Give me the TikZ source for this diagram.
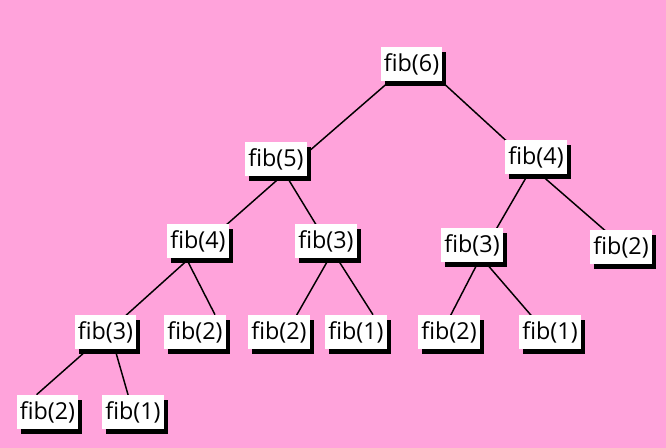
\documentclass[tikz,border=0pt]{standalone}
\usepackage{fontspec}
\setmainfont{Open Sans}
\usepackage{tikz}
\usetikzlibrary{shadows,backgrounds}

\definecolor{bgpink}{RGB}{255,163,219}

\tikzset{
  call/.style={fill=white, inner xsep=2.5pt, inner ysep=0pt, minimum height=25.5pt,
    font=\fontsize{17.5}{20}\selectfont,
    drop shadow={fill=black, opacity=1, shadow xshift=3pt, shadow yshift=-3.75pt}},
  link/.style={line width=1.1pt, black}
}

\begin{document}
\begin{tikzpicture}[x=0.75pt,y=0.75pt,yscale=-1,xscale=1]
\useasboundingbox (0,0) rectangle (666,448);
% calls
\node[call] (f6) at (411.5,64) {fib(6)};
\node[call] (f5) at (276,159) {fib(5)};
\node[call] (f4r) at (536,157) {fib(4)};
\node[call] (f4l) at (198,241) {fib(4)};
\node[call] (f3m) at (326,241) {fib(3)};
\node[call] (f3r) at (472,245) {fib(3)};
\node[call] (f2r) at (621,247) {fib(2)};
\node[call] (f3l) at (105.5,332) {fib(3)};
\node[call] (f2a) at (195,332) {fib(2)};
\node[call] (f2b) at (279,332) {fib(2)};
\node[call] (f1a) at (356,332) {fib(1)};
\node[call] (f2c) at (449,332) {fib(2)};
\node[call] (f1b) at (550,332) {fib(1)};
\node[call] (f2d) at (47.5,412) {fib(2)};
\node[call] (f1c) at (133,412) {fib(1)};
% background and links
\begin{pgfonlayer}{background}
\fill[bgpink] (0,0) rectangle (666,448);
\draw[link] ([xshift=-1.5pt]f6.center) -- ([xshift=18pt]f5.center);
\draw[link] ([xshift=8.25pt]f6.center) -- ([xshift=-9pt]f4r.center);
\draw[link] ([xshift=18.75pt]f5.center) -- ([xshift=7.5pt]f4l.center);
\draw[link] (f5.center) -- (f3m.center);
\draw[link] ([xshift=8pt]f4l.center) -- ([xshift=1.5pt]f3l.center);
\draw[link] ([xshift=-15.5pt]f4l.center) -- ([xshift=15pt]f2a.north);
\draw[link] ([xshift=9.75pt]f3m.center) -- ([xshift=6pt]f2b.center);
\draw[link] (f3m.center) -- ([xshift=12.75pt]f1a.north);
\draw[link] ([xshift=1.5pt]f4r.center) -- ([xshift=11.25pt]f3r.center);
\draw[link] ([xshift=-11.6pt]f4r.center) -- ([xshift=2.25pt]f2r.center);
\draw[link] ([xshift=11.25pt]f3r.center) -- ([xshift=-5.25pt]f2c.center);
\draw[link] ([xshift=-1.2pt]f3r.center) -- ([xshift=-3.4pt]f1b.center);
\draw[link] ([xshift=1.5pt]f3l.center) -- ([xshift=-8.25pt]f2d.north);
\draw[link] ([xshift=3.4pt]f3l.center) -- (f1c.center);
\end{pgfonlayer}
\end{tikzpicture}
\end{document}
